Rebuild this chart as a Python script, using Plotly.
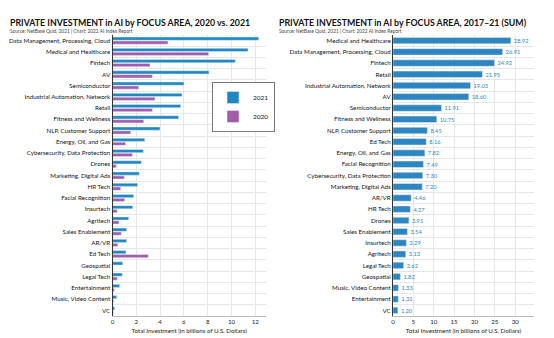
import plotly.graph_objects as go

# Left chart data (2020 vs 2021), top to bottom
left_cats = ["Data Management, Processing, Cloud", "Medical and Healthcare", "Fintech", "AV",
             "Semiconductor", "Industrial Automation, Network", "Retail", "Fitness and Wellness",
             "NLP, Customer Support", "Energy, Oil, and Gas", "Cybersecurity, Data Protection",
             "Drones", "Marketing, Digital Ads", "HR Tech", "Facial Recognition", "Insurtech",
             "Agritech", "Sales Enablement", "AR/VR", "Ed Tech", "Geospatial", "Legal Tech",
             "Entertainment", "Music, Video Content", "VC"]
vals_2021 = [12.29, 11.39, 10.32, 8.11, 6.01, 5.84, 5.73, 5.56, 3.99, 2.71, 2.59, 2.42, 2.25,
             2.12, 1.78, 1.70, 1.36, 1.19, 1.19, 1.13, 0.86, 0.82, 0.60, 0.35, 0.18]
vals_2020 = [4.66, 8.08, 3.15, 3.35, 2.20, 3.57, 3.35, 2.62, 1.53, 1.11, 1.67, 0.32, 0.99,
             0.69, 1.02, 0.40, 0.55, 0.74, 0.44, 3.01, 0.05, 0.40, 0.15, 0.10, 0.08]

# Right chart data (2017-21 sum), top to bottom
right_cats = ["Medical and Healthcare", "Data Management, Processing, Cloud", "Fintech", "Retail",
              "Industrial Automation, Network", "AV", "Semiconductor", "Fitness and Wellness",
              "NLP, Customer Support", "Ed Tech", "Energy, Oil, and Gas", "Facial Recognition",
              "Cybersecurity, Data Protection", "Marketing, Digital Ads", "AR/VR", "HR Tech",
              "Drones", "Sales Enablement", "Insurtech", "Agritech", "Legal Tech", "Geospatial",
              "Music, Video Content", "Entertainment", "VC"]
sum_vals = [28.92, 26.91, 24.92, 21.95, 19.03, 18.60, 11.91, 10.75, 8.45, 8.16, 7.82, 7.49,
            7.30, 7.20, 4.46, 4.27, 3.91, 3.54, 3.29, 3.13, 2.62, 1.82, 1.33, 1.31, 1.20]

BLUE = "#1f88c2"
PURPLE = "#a35cab"
BLUE2 = "#2e86c1"
FONT = "Lato"
GRID = "#e6e6e6"
FS = 6.2
TXT = "#111"

fig = go.Figure()
fig.add_trace(go.Bar(y=left_cats, x=vals_2021, orientation="h", name="2021",
                     marker_color=BLUE, xaxis="x", yaxis="y"))
fig.add_trace(go.Bar(y=left_cats, x=vals_2020, orientation="h", name="2020",
                     marker_color=PURPLE, xaxis="x", yaxis="y"))
fig.add_trace(go.Bar(y=right_cats, x=sum_vals, orientation="h", name="Sum",
                     marker_color=BLUE2, xaxis="x2", yaxis="y2", showlegend=False,
                     texttemplate="%{x:.2f}", textposition="outside", cliponaxis=False,
                     textfont=dict(color=BLUE2, size=FS, family=FONT)))

W, H = 554, 338
ydom = [1 - 316 / H, 1 - 35 / H]

common_x = dict(showgrid=True, gridcolor=GRID, gridwidth=1, zeroline=False,
                showline=True, linecolor="#bbbbbb", linewidth=1, ticks="",
                tickfont=dict(size=FS, color="#222", family=FONT), automargin=False,
                fixedrange=True)
common_y = dict(type="category", autorange="reversed", tickson="boundaries",
                showgrid=True, gridcolor=GRID, gridwidth=1, showline=True,
                linecolor="#333", linewidth=1.2, ticks="", ticklen=0,
                tickfont=dict(size=FS, color=TXT, family=FONT), automargin=False)

fig.update_layout(
    width=W, height=H,
    margin=dict(l=0, r=0, t=0, b=0),
    paper_bgcolor="white", plot_bgcolor="white",
    barmode="group", bargap=0.3, bargroupgap=0.18,
    font=dict(family=FONT, color=TXT),
    xaxis=dict(domain=[112.5 / W, 266 / W], range=[0, 12.9], dtick=2,
               title=dict(text="Total Investment (in billions of U.S. Dollars)",
                          font=dict(size=FS, family=FONT, color="#222"), standoff=4),
               anchor="y", **common_x),
    yaxis=dict(domain=ydom, anchor="x", **common_y),
    xaxis2=dict(domain=[393 / W, 534 / W], range=[0, 34.6], dtick=5,
                title=dict(text="Total Investment (in billions of U.S. Dollars)",
                           font=dict(size=FS, family=FONT, color="#222"), standoff=4),
                anchor="y2", **common_x),
    yaxis2=dict(domain=ydom, anchor="x2", **common_y),
    legend=dict(x=212 / W, y=1 - 82 / H, xanchor="left", yanchor="top",
                bordercolor="#777", borderwidth=1, bgcolor="white",
                font=dict(size=6.5, family=FONT, color=TXT),
                itemwidth=30, tracegroupgap=0, traceorder="normal"),
    annotations=[
        dict(text="<b>PRIVATE INVESTMENT in AI by FOCUS AREA, 2020 vs. 2021</b>",
             x=8 / W, y=1 - 22 / H, xref="paper", yref="paper", xanchor="left",
             yanchor="middle", showarrow=False, font=dict(size=8.8, family=FONT, color=TXT)),
        dict(text="Source: NetBase Quid, 2021 | Chart: 2022 AI Index Report",
             x=8 / W, y=1 - 31 / H, xref="paper", yref="paper", xanchor="left",
             yanchor="middle", showarrow=False, font=dict(size=4.8, family=FONT, color="#444")),
        dict(text="<b>PRIVATE INVESTMENT in AI by FOCUS AREA, 2017–21 (SUM)</b>",
             x=277 / W, y=1 - 22 / H, xref="paper", yref="paper", xanchor="left",
             yanchor="middle", showarrow=False, font=dict(size=8.8, family=FONT, color=TXT)),
        dict(text="Source: NetBase Quid, 2021 | Chart: 2022 AI Index Report",
             x=277 / W, y=1 - 31 / H, xref="paper", yref="paper", xanchor="left",
             yanchor="middle", showarrow=False, font=dict(size=4.8, family=FONT, color="#444")),
    ],
)

fig.write_html("out.html")
